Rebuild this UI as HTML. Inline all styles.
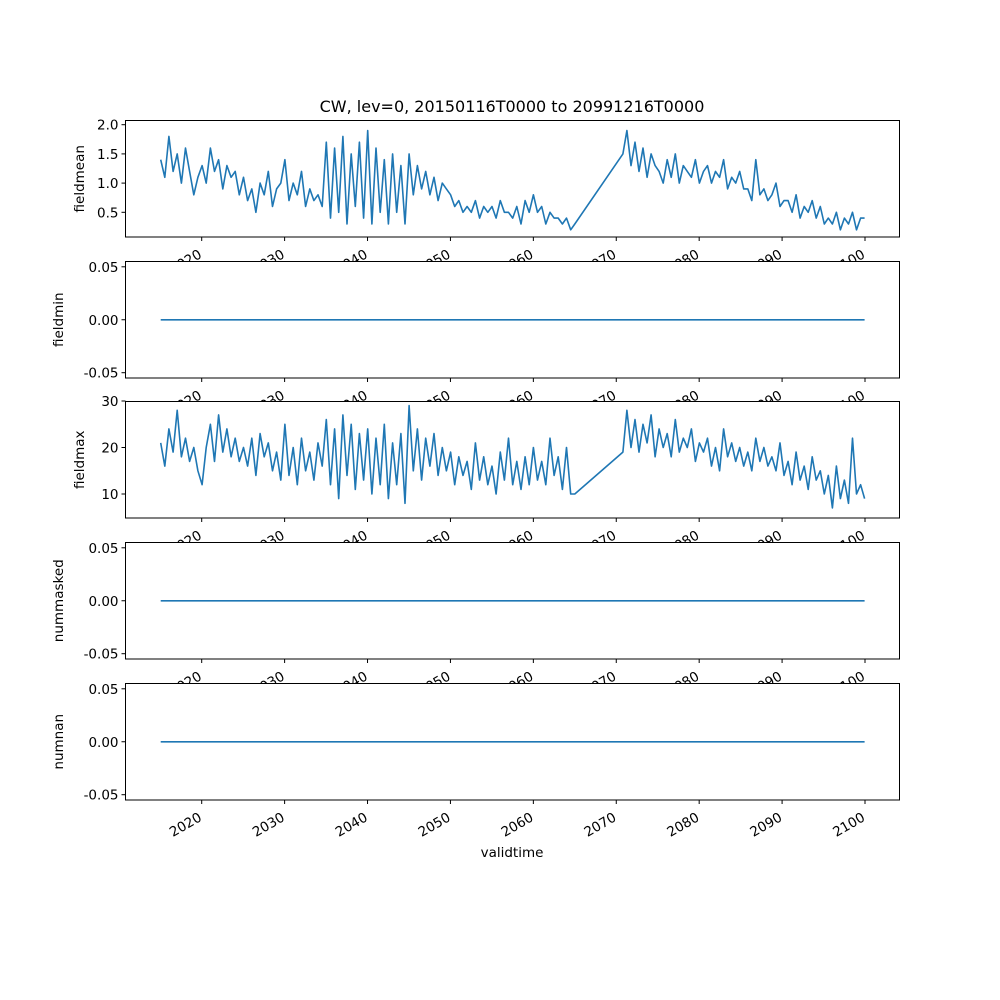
<!DOCTYPE html>
<html><head><meta charset="utf-8"><style>
body{margin:0;background:#fff}
svg{display:block;font-family:"DejaVu Sans","Liberation Sans",sans-serif}
</style></head><body>
<svg id="fig" width="1000" height="1000" viewBox="0 0 1000 1000">
<rect width="1000" height="1000" fill="#fff"/>
<text x="512" y="112" text-anchor="middle" font-size="16">CW, lev=0, 20150116T0000 to 20991216T0000</text>
</svg>
<script>
const xTicks = [2020, 2030, 2040, 2050, 2060, 2070, 2080, 2090, 2100];
const panelNames = ["fieldmean", "fieldmin", "fieldmax", "nummasked", "numnan"];
const meanSeg1 = [1.4,1.1,1.8,1.2,1.5,1.0,1.6,1.2,0.8,1.1,
1.3,1.0,1.6,1.2,1.4,0.9,1.3,1.1,1.2,0.8,
1.1,0.7,0.9,0.5,1.0,0.8,1.2,0.6,0.9,1.0,
1.4,0.7,1.0,0.8,1.2,0.6,0.9,0.7,0.8,0.6,
1.7,0.4,1.6,0.5,1.8,0.3,1.5,0.6,1.7,0.4,1.9,0.3,1.6,0.5,1.4,0.3,1.5,0.5,1.3,0.3,
1.5,0.8,1.3,0.9,1.2,0.8,1.1,0.7,1.0,0.9,
0.8,0.6,0.7,0.5,0.6,0.5,0.7,0.4,0.6,0.5,
0.6,0.4,0.7,0.5,0.5,0.4,0.6,0.3,0.7,0.5,
0.8,0.5,0.6,0.3,0.5,0.4,0.4,0.3,0.4,0.2,0.3];
const meanSeg2 = [1.5,1.9,1.3,1.7,1.2,1.6,1.1,1.5,1.3,1.2,1.0,
1.4,1.1,1.5,1.0,1.3,1.2,1.1,1.4,1.0,1.2,
1.3,1.0,1.2,1.1,1.4,0.9,1.1,1.0,1.2,0.9,
0.9,0.7,1.4,0.8,0.9,0.7,0.8,1.0,0.6,0.7,
0.7,0.5,0.8,0.4,0.6,0.5,0.7,0.4,0.6,0.3,
0.4,0.3,0.5,0.2,0.4,0.3,0.5,0.2,0.4,0.4];
const maxSeg1 = [21,16,24,19,28,18,22,17,20,15,
12,20,25,17,27,19,24,18,22,17,
20,16,22,14,23,18,21,15,19,13,
25,14,20,12,22,15,19,13,21,16,
26,12,24,9,27,14,25,11,23,13,
24,10,22,12,25,9,21,12,23,8,
29,15,24,13,22,16,23,14,20,15,
19,12,18,14,17,11,21,13,18,12,
16,10,19,13,22,12,17,11,18,12,
20,13,17,12,22,14,18,11,20,10,10];
const maxSeg2 = [19,28,20,26,19,25,21,27,18,24,20,
23,18,26,19,22,20,24,17,21,19,
22,16,20,15,24,18,21,17,20,16,
19,15,22,17,20,16,18,15,21,14,
17,12,19,13,16,11,18,13,15,10,
14,7,16,9,13,8,22,10,12,9];
const seg1Range = [2015.05, 2065.0];
const seg2Range = [2070.8, 2099.95];

const svg = document.getElementById('fig');
const NS = 'http://www.w3.org/2000/svg';
const L = 125.5, R = 899.5;
const tops = [120.5, 261.5, 401.5, 542.5, 683.5];
const H = 116.5;
function X(t){ return 201.7 + (t - 2020) * (865 - 201.7) / 80; }
function mk(tag, attrs, parent){
  const e = document.createElementNS(NS, tag);
  for (const k in attrs) e.setAttribute(k, attrs[k]);
  (parent || svg).appendChild(e);
  return e;
}
function times(range, n){ const a=[]; for(let i=0;i<n;i++) a.push(range[0] + (range[1]-range[0])*i/(n-1)); return a; }

const panels = [
  {ticks:[0.5,1.0,1.5,2.0], fmt:v=>v.toFixed(1), segs:[meanSeg1, meanSeg2]},
  {ticks:[-0.05,0,0.05], fmt:v=>v.toFixed(2), zero:true},
  {ticks:[10,20,30], fmt:v=>String(v), segs:[maxSeg1, maxSeg2]},
  {ticks:[-0.05,0,0.05], fmt:v=>v.toFixed(2), zero:true},
  {ticks:[-0.05,0,0.05], fmt:v=>v.toFixed(2), zero:true}
];
panels[0].Y = v => 212.3 - (v - 0.5) * (212.3 - 124.7) / 1.5;
panels[2].Y = v => 494 - (v - 10) * 4.65;
[1,3,4].forEach(i => { const t = tops[i]; panels[i].Y = v => t + H/2 - v * (H/0.11); });

panels.forEach((p, i) => {
  const g = mk('g', {});
  
  
  const top = tops[i], bot = top + H;
  const bg = mk('rect', {x:L, y:top, width:R-L, height:H, fill:'#fff'}, g);
  
  
  let segs = [];
  if (p.zero) segs = [[[2015.05, 0], [2099.95, 0]]];
  else segs = p.segs.map((s, k) => { const ts = times(k===0?seg1Range:seg2Range, s.length); return s.map((v,j)=>[ts[j], v]); });
  if (!p.zero) segs = [segs[0].concat(segs[1])];
  segs.forEach(pts => {
    const d = pts.map((q, j) => (j?'L':'M') + X(q[0]).toFixed(1) + ',' + p.Y(q[1]).toFixed(1)).join('');
    const line = mk('path', {d, fill:'none', stroke:'#1f77b4', 'stroke-width':1.6, 'stroke-linejoin':'round'}, g);
    
    
  });
  const fr = mk('rect', {x:L, y:top, width:R-L, height:H, fill:'none', stroke:'#000', 'stroke-width':1}, g);
  
  
  p.ticks.forEach(v => {
    const y = p.Y(v);
    mk('line', {x1:L-4, x2:L, y1:y, y2:y, stroke:'#000'}, g);
    const t = mk('text', {x:L-7, y:y+5, 'text-anchor':'end', 'font-size':13.5, fill:'#000'}, g);
    t.textContent = p.fmt(v);
    
    
  });
  xTicks.forEach(v => {
    const x = X(v);
    mk('line', {x1:x, x2:x, y1:bot, y2:bot+4, stroke:'#000'}, g);
    const t = mk('text', {x:x+1, y:bot+20, 'text-anchor':'end', 'font-size':13.5, fill:'#000', transform:`rotate(-30 ${x+1} ${bot+20})`}, g);
    t.textContent = v;
    
    
  });
  const cy = top + H/2, lx = i===0||i===2 ? 84 : 63;
  const yl = mk('text', {x:lx, y:cy, 'text-anchor':'middle', 'font-size':13.5, transform:`rotate(-90 ${lx} ${cy})`}, g);
  yl.textContent = panelNames[i];
  
  
});
const xl = mk('text', {x:512, y:857, 'text-anchor':'middle', 'font-size':13.5});
xl.textContent = 'validtime';


</script>
</body></html>
